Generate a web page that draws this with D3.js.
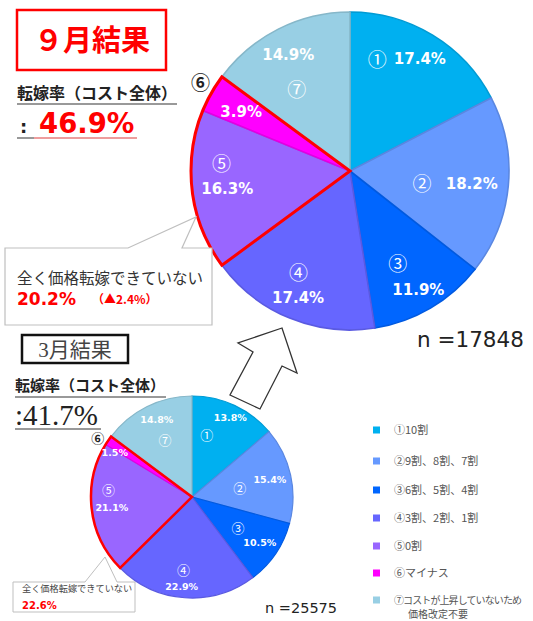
<!DOCTYPE html>
<html>
<head>
<meta charset="utf-8">
<script src="https://cdn.jsdelivr.net/npm/d3@7"></script>
<style>
  body { margin: 0; background: #fff; }
  text { font-family: "Noto Sans CJK JP", sans-serif; }
</style>
</head>
<body>
<div id="chart"></div>
<script>
// data
const categories = ["①", "②", "③", "④", "⑤", "⑥", "⑦"];
const legendLabels = ["①10割", "②9割、8割、7割", "③6割、5割、4割", "④3割、2割、1割", "⑤0割", "⑥マイナス", "⑦コストが上昇していないため"];
const legendExtra = "価格改定不要";
const septValues = [17.4, 18.2, 11.9, 17.4, 16.3, 3.9, 14.9];
const marchValues = [13.8, 15.4, 10.5, 22.9, 21.1, 1.5, 14.8];
const septRate = "46.9%", marchRate = "41.7%";
const septNone = "20.2%", septNoneDiff = "（▲2.4%）", marchNone = "22.6%";
const septN = 17848, marchN = 25575;

const colors = ["#00b0f0", "#6699ff", "#0066ff", "#6666ff", "#9966ff", "#ff00ff", "#98cfe4"];

const W = 533, H = 621;
const svg = d3.select("#chart").append("svg")
    .attr("width", W).attr("height", H);

// label placement: t = fraction across slice, r = fraction of radius
const septNumPos = [[0.22, 0.72], [0.57, 0.46], [0.58, 0.66], [0.57, 0.72], [0.67, 0.81], [0.58, 1.09], [0.38, 0.61]];
const septPctPos = [[0.51, 0.83], [0.51, 0.77], [0.51, 0.86], [0.50, 0.86], [0.48, 0.78], [0.45, 0.78], [0.48, 0.83]];
const marchNumPos = [[0.27, 0.63], [0.54, 0.48], [0.5, 0.55], [0.53, 0.73], [0.65, 0.83], [0.1, 1.1], [0.52, 0.62]];
const marchPctPos = [[0.52, 0.87], [0.5, 0.79], [0.5, 0.81], [0.53, 0.89], [0.49, 0.8], [-0.3, 0.88], [0.54, 0.84]];

function polar(a, r) { return [Math.sin(a) * r, -Math.cos(a) * r]; }

function drawPie(values, cx, cy, r, numPos, pctPos, sz) {
    const g = svg.append("g").attr("transform", `translate(${cx},${cy})`);
    const arcs = d3.pie().sort(null).value(d => d)(values);
    const arc = d3.arc().innerRadius(0).outerRadius(r);

    g.selectAll("path.slice")
        .data(arcs)
        .enter()
        .append("path")
        .attr("class", "slice")
        .attr("d", arc)
        .attr("fill", (d, i) => colors[i])
        .attr("stroke", (d, i) => d3.color(colors[i]).darker(0.35))
        .attr("stroke-width", sz.seam);

    // red frame round ⑤ + ⑥
    g.append("path")
        .attr("d", arc({ startAngle: arcs[4].startAngle, endAngle: arcs[5].endAngle }))
        .attr("fill", "none")
        .attr("stroke", "#ff0000")
        .attr("stroke-width", sz.frame)
        .attr("stroke-linejoin", "miter");

    const at = (d, p) => polar(d.startAngle + p[0] * (d.endAngle - d.startAngle), p[1] * r);

    g.selectAll("text.num")
        .data(arcs)
        .enter()
        .append("text")
        .attr("class", "num")
        .attr("transform", (d, i) => `translate(${at(d, numPos[i])})`)
        .attr("text-anchor", "middle")
        .attr("dy", "0.36em")
        .attr("font-size", sz.num)
        .attr("font-weight", (d, i) => i === 5 ? "bold" : "normal")
        .attr("fill", (d, i) => i === 5 ? "#222" : "#fff")
        .text((d, i) => categories[i]);

    g.selectAll("text.pct")
        .data(arcs)
        .enter()
        .append("text")
        .attr("class", "pct")
        .attr("transform", (d, i) => `translate(${at(d, pctPos[i])})`)
        .attr("text-anchor", "middle")
        .attr("dy", "0.36em")
        .style("font-family", "'DejaVu Sans', Verdana, sans-serif")
        .attr("font-weight", "bold")
        .attr("font-size", sz.pct)
        .attr("fill", "#fff")
        .text(d => d.data.toFixed(1) + "%");
}

drawPie(septValues, 350, 171, 159, septNumPos, septPctPos, { seam: 1.6, frame: 3, num: 19, pct: 15 });
drawPie(marchValues, 192, 497, 101, marchNumPos, marchPctPos, { seam: 1.2, frame: 2.5, num: 13, pct: 9.5 });

/* September header */
svg.append("rect")
    .attr("x", 17).attr("y", 10).attr("width", 149).attr("height", 60)
    .attr("fill", "#fff").attr("stroke", "#ff0000").attr("stroke-width", 2.5);
svg.append("text")
    .attr("x", 92).attr("y", 51)
    .attr("text-anchor", "middle")
    .attr("font-size", 29).attr("font-weight", "bold")
    .attr("fill", "#ff0000")
    .text("９月結果");

svg.append("text")
    .attr("x", 17).attr("y", 99)
    .attr("font-size", 16).attr("font-weight", "bold").attr("fill", "#222")
    .text("転嫁率（コスト全体）");
svg.append("line")
    .attr("x1", 17).attr("x2", 177).attr("y1", 104).attr("y2", 104)
    .attr("stroke", "#777").attr("stroke-width", 1.5);

svg.append("text")
    .attr("x", 20).attr("y", 133)
    .style("font-family", "'DejaVu Sans', sans-serif")
    .attr("font-size", 18).attr("font-weight", "bold").attr("fill", "#222")
    .text(":");
svg.append("text")
    .attr("x", 39).attr("y", 133)
    .style("font-family", "'DejaVu Sans', Verdana, sans-serif")
    .attr("font-size", 27.5).attr("font-weight", "bold").attr("fill", "#ff0000")
    .text(septRate);
svg.append("line")
    .attr("x1", 17).attr("x2", 34).attr("y1", 138).attr("y2", 138)
    .attr("stroke", "#777").attr("stroke-width", 1.5);
svg.append("line")
    .attr("x1", 34).attr("x2", 137).attr("y1", 138).attr("y2", 138)
    .attr("stroke", "#e87d7d").attr("stroke-width", 1.5);

/* September callout */
svg.append("path")
    .attr("d", "M5,248 L128,248 L196,217 L182,248 L212,248 L212,325 L5,325 Z")
    .attr("fill", "#fff").attr("stroke", "#bfbfbf").attr("stroke-width", 1.2);
svg.append("text")
    .attr("x", 17).attr("y", 284)
    .attr("font-size", 15.5).attr("fill", "#333")
    .text("全く価格転嫁できていない");
svg.append("text")
    .attr("x", 17).attr("y", 305)
    .style("font-family", "'DejaVu Sans', Verdana, sans-serif")
    .attr("font-size", 17).attr("font-weight", "bold").attr("fill", "#ff0000")
    .text(septNone);
svg.append("text")
    .attr("x", 92).attr("y", 304)
    .attr("font-size", 12).attr("font-weight", "bold").attr("fill", "#ff0000")
    .text(septNoneDiff);

svg.append("text")
    .attr("x", 417).attr("y", 347)
    .style("font-family", "'DejaVu Sans', sans-serif")
    .attr("font-size", 21.5).attr("fill", "#222")
    .text("n =" + septN);

/* arrow */
svg.append("path")
    .attr("d", "M282,328 L238,343 L253,352 L230,395 L260,409 L282,366 L297,373 Z")
    .attr("fill", "#fff").attr("stroke", "#333").attr("stroke-width", 1.3)
    .attr("stroke-linejoin", "miter");

/* March header */
svg.append("rect")
    .attr("x", 22).attr("y", 335).attr("width", 106).attr("height", 28)
    .attr("fill", "#fff").attr("stroke", "#111").attr("stroke-width", 2.5);
svg.append("text")
    .attr("x", 75).attr("y", 357)
    .attr("text-anchor", "middle")
    .style("font-family", "'Liberation Serif', 'Noto Sans CJK JP', serif")
    .attr("font-size", 21).attr("fill", "#444")
    .text("3月結果");

svg.append("text")
    .attr("x", 15).attr("y", 391)
    .attr("font-size", 15).attr("font-weight", "bold").attr("fill", "#222")
    .text("転嫁率（コスト全体）");
svg.append("line")
    .attr("x1", 15).attr("x2", 166).attr("y1", 397).attr("y2", 397)
    .attr("stroke", "#777").attr("stroke-width", 1.5);
svg.append("text")
    .attr("x", 15).attr("y", 425)
    .style("font-family", "'Liberation Serif', serif")
    .attr("font-size", 29).attr("fill", "#222")
    .text(":" + marchRate);
svg.append("line")
    .attr("x1", 15).attr("x2", 101).attr("y1", 429).attr("y2", 429)
    .attr("stroke", "#777").attr("stroke-width", 1.5);

/* March callout */
svg.append("path")
    .attr("d", "M13,582 L85,582 L105,557 L117,582 L135,582 L135,612 L13,612 Z")
    .attr("fill", "#fff").attr("stroke", "#bfbfbf").attr("stroke-width", 1);
svg.append("text")
    .attr("x", 22).attr("y", 592)
    .attr("font-size", 9.2).attr("fill", "#444")
    .text("全く価格転嫁できていない");
svg.append("text")
    .attr("x", 22).attr("y", 609)
    .style("font-family", "'DejaVu Sans', Verdana, sans-serif")
    .attr("font-size", 10).attr("font-weight", "bold").attr("fill", "#ff0000")
    .text(marchNone);

svg.append("text")
    .attr("x", 265).attr("y", 613)
    .style("font-family", "'DejaVu Sans', sans-serif")
    .attr("font-size", 14.5).attr("fill", "#222")
    .text("n =" + marchN);

/* legend */
const legendY = [430, 461, 490, 518, 546, 573, 600];
const legend = svg.append("g");
legend.selectAll("rect")
    .data(legendLabels)
    .enter()
    .append("rect")
    .attr("x", 373)
    .attr("y", (d, i) => legendY[i] - 3.5)
    .attr("width", 7).attr("height", 7)
    .attr("fill", (d, i) => colors[i]);
legend.selectAll("text")
    .data(legendLabels)
    .enter()
    .append("text")
    .attr("x", 394)
    .attr("y", (d, i) => legendY[i])
    .attr("dy", "0.36em")
    .attr("font-size", (d, i) => i === 6 ? 10 : 11)
    .attr("letter-spacing", (d, i) => i === 6 ? -0.9 : 0)
    .attr("fill", "#555")
    .text(d => d);
legend.append("text")
    .attr("x", 408)
    .attr("y", legendY[6] + 14)
    .attr("dy", "0.36em")
    .attr("font-size", 10).attr("fill", "#555")
    .text(legendExtra);
</script>
</body>
</html>
